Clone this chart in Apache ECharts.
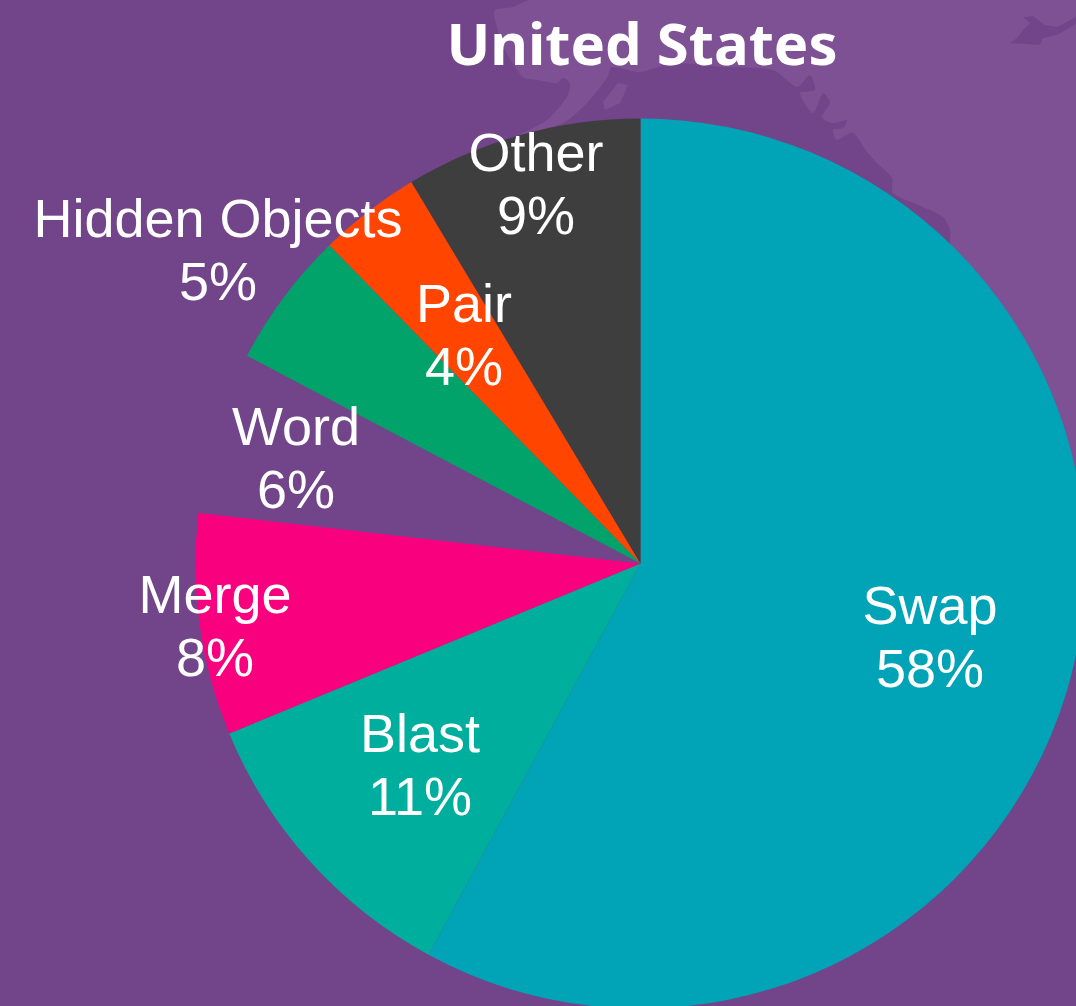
<!DOCTYPE html>
<html><head><meta charset="utf-8">
<style>html,body{margin:0;padding:0;background:#72458a}#c{width:1076px;height:1006px}</style>
<script src="https://cdn.jsdelivr.net/npm/echarts@6/dist/echarts.min.js"></script>
</head><body><div id="c"></div>
<script>
const categories = ['Swap','Blast','Merge','Word','Hidden Objects','Pair','Other'];
const sliceValues = [57.9,10.86,8.06,5.91,4.95,3.71,8.61];
const shownPercents = ['58%','11%','8%','6%','5%','4%','9%'];
const colors = ['#00a4b6','#00ae9d','#f9007f','#72458a','#02a26b','#ff4500','#3e3e3e'];
const labelCentres = [[930,641],[420,769],[215,630],[296,462],[218,254],[464,339],[536,188]];
const oceanOutline = [[530,0],[513,7],[495,10],[495,20],[505,50],[523,77],[537,80],[557,83],[563,78],[570,83],[567,97],[547,120],[520,135],[563,123],[587,103],[607,78],[612,67],[640,72],[673,63],[723,67],[773,70],[797,87],[810,75],[815,90],[800,93],[813,113],[823,93],[830,103],[822,117],[832,123],[847,120],[843,128],[833,130],[837,140],[853,133],[867,152],[877,163],[892,178],[893,193],[923,207],[943,217],[950,230],[950,243],[1000,700],[1076,640],[1076,0]];
const islandDark = [[1023,17],[1033,16],[1045,25],[1057,27],[1076,17],[1076,24],[1057,35],[1043,38],[1040,45],[1010,43],[1017,38],[1023,30],[1030,23]];
const islandLight = [[628,85],[618,83],[603,102],[605,110],[620,103]];

const chart = echarts.init(document.getElementById('c'), null, {renderer:'canvas'});
chart.setOption({
  animation:false,
  backgroundColor:'#72458a',
  graphic:[
    {type:'polygon',z:0,shape:{points:oceanOutline,smooth:0.25},style:{fill:'#7e5194'}},
    {type:'polygon',z:1,shape:{points:islandDark},style:{fill:'#72458a'}},
    {type:'polygon',z:1,shape:{points:islandLight},style:{fill:'#7e5194'}}
  ],
  title:{text:'United States',left:637,top:14,textAlign:'center',
    textStyle:{color:'#fff',fontFamily:'Noto Sans',fontWeight:700,fontSize:58}},
  series:[{
    type:'pie',center:[640.5,563.5],radius:[0,445],startAngle:90,clockwise:true,
    avoidLabelOverlap:false,silent:true,
    data:categories.map((n,i)=>({name:n,value:sliceValues[i],itemStyle:{color:colors[i]}})),
    label:{show:true,position:'inside',color:'#fff',fontFamily:'Liberation Sans',fontSize:54,lineHeight:63,align:'center',verticalAlign:'middle',
      formatter:p=>p.name+'\n'+shownPercents[p.dataIndex]},
    labelLine:{show:false},
    labelLayout:p=>({x:labelCentres[p.dataIndex][0],y:labelCentres[p.dataIndex][1],align:'center',verticalAlign:'middle'})
  }]
});
</script></body></html>
